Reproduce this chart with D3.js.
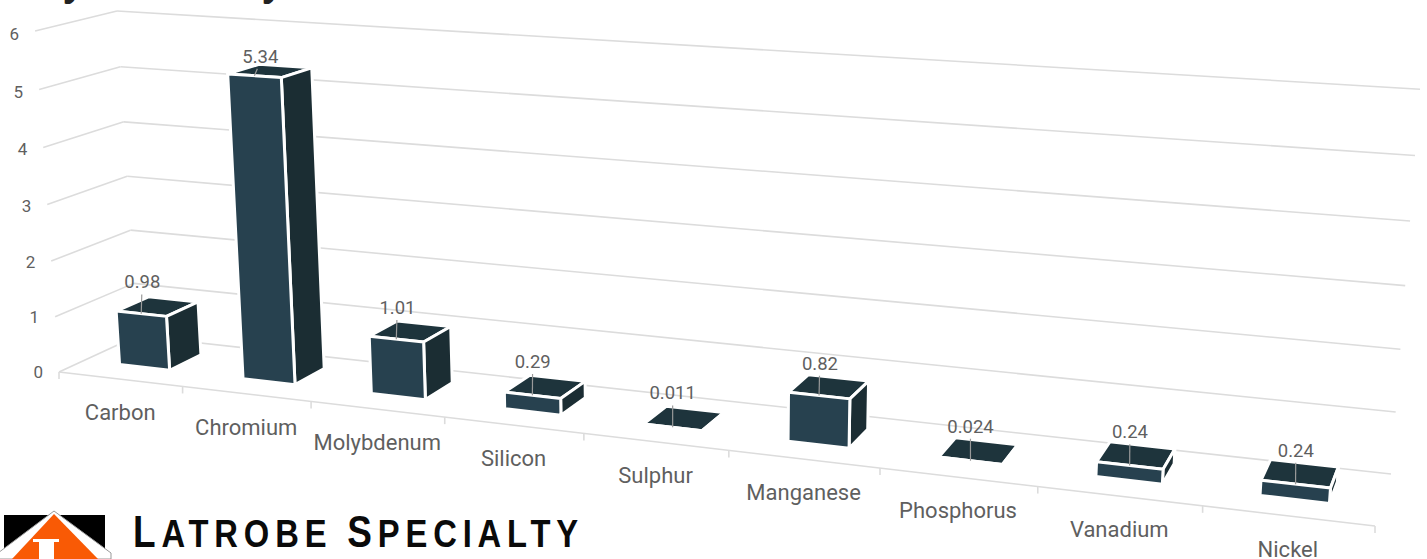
<!DOCTYPE html>
<html><head><meta charset="utf-8">
<script src="https://cdnjs.cloudflare.com/ajax/libs/d3/7.8.5/d3.min.js"></script>
<style>html,body{margin:0;padding:0;background:#fff;overflow:hidden}svg{display:block}</style>
</head><body><svg id="c" width="1427" height="559"></svg>
<script>
const categories=["Carbon","Chromium","Molybdenum","Silicon","Sulphur","Manganese","Phosphorus","Vanadium","Nickel"];
const values=[0.98,5.34,1.01,0.29,0.011,0.82,0.024,0.24,0.24];
const valueLabels=["0.98","5.34","1.01","0.29","0.011","0.82","0.024","0.24","0.24"];
const yTicks=[0,1,2,3,4,5,6];
const FL=[59,372],FR=[1375,526],BL=[137,336],BR=[1391,474],TBL=[117,11],TBR=[1420,94];

function solve(m,b){const n=m.length,a=m.map((r,i)=>[...r,b[i]]);
 for(let i=0;i<n;i++){let p=i;for(let j=i+1;j<n;j++)if(Math.abs(a[j][i])>Math.abs(a[p][i]))p=j;[a[i],a[p]]=[a[p],a[i]];
  for(let j=0;j<n;j++)if(j!==i){const f=a[j][i]/a[i][i];for(let k=i;k<=n;k++)a[j][k]-=f*a[i][k];}}
 return a.map((r,i)=>r[n]/r[i]);}
const h=(()=>{const P=[[0,0,FL],[1,0,FR],[0,1,BL],[1,1,BR]],M=[],b=[];
 P.forEach(([u,d,[x,y]])=>{M.push([u,d,1,0,0,0,-u*x,-d*x]);b.push(x);M.push([0,0,0,u,d,1,-u*y,-d*y]);b.push(y);});
 return solve(M,b);})();
const vert=(()=>{const w1=h[7]+1,w2=h[6]+h[7]+1;
 const n1=[h[1]+h[2],h[4]+h[5]],n2=[h[0]+h[1]+h[2],h[3]+h[4]+h[5]];
 const M=[[1,0,-TBL[0]],[0,1,-TBL[1]],[1,0,-TBR[0]]];
 const b=[TBL[0]*w1-n1[0],TBL[1]*w1-n1[1],TBR[0]*w2-n2[0]];
 return solve(M,b);})();
const vn=d3.scaleLinear().domain([0,6]).range([0,1]);
function proj(u,d,val){const t=vn(val);
 const w=h[6]*u+h[7]*d+1+vert[2]*t;
 return [(h[0]*u+h[1]*d+h[2]+vert[0]*t)/w,(h[3]*u+h[4]*d+h[5]+vert[1]*t)/w];}
const band=d3.scaleBand().domain(categories).range([0,1]).paddingInner(0.59).paddingOuter(0.295);
const D0=0.31,D1=0.73;
const svg=d3.select("#c");
const grid="#dcdcdc",frontC="#27414f",sideC="#1b2d33",topC="#1e343c",textC="#5f5f5f";
const lineG=d3.line();
function seg(a,b){svg.append("path").attr("d",lineG([a,b])).attr("fill","none").attr("stroke",grid).attr("stroke-width",1.6);}
yTicks.forEach(t=>{seg(proj(0,0,t),proj(0,1,t));seg(proj(0,1,t),proj(1,1,t));
 const p=proj(0,0,t);
 svg.append("text").attr("x",p[0]-16).attr("y",p[1]+6+t*0.5).attr("text-anchor","end").attr("font-family","Roboto").attr("font-size",17).attr("fill",textC).text(t);});
seg(proj(0,0,0),proj(1,0,0));
d3.range(0,10).forEach(i=>{const u=i/9,p=proj(u,0,0);seg(p,[p[0],p[1]+7]);});
function poly(pts,fill){svg.append("path").attr("d",d3.line()(pts)+"Z").attr("fill",fill).attr("stroke","#fff").attr("stroke-width",3).attr("stroke-linejoin","round");}
categories.forEach((c,i)=>{const v=values[i],u0=band(c),u1=u0+band.bandwidth();
 poly([proj(u0,D0,v),proj(u1,D0,v),proj(u1,D1,v),proj(u0,D1,v)],topC);
 poly([proj(u1,D0,0),proj(u1,D1,0),proj(u1,D1,v),proj(u1,D0,v)],sideC);
 poly([proj(u0,D0,0),proj(u1,D0,0),proj(u1,D0,v),proj(u0,D0,v)],frontC);
 const m=proj((u0+u1)/2,D0,v), lift=34-2.8*v, nudge=1.1*v;
 svg.append("path").attr("d",lineG([m,[m[0]+nudge/2,m[1]-lift+12]])).attr("stroke","#9a9a9a").attr("stroke-width",1.2);
 svg.append("text").attr("x",m[0]+nudge).attr("y",m[1]-lift+6).attr("text-anchor","middle").attr("font-family","Roboto").attr("font-size",18.5).attr("fill",textC).text(valueLabels[i]);
 const a=proj((i+0.5)/9,0,0);
 svg.append("text").attr("x",a[0]).attr("y",a[1]+41).attr("text-anchor","middle").attr("font-family","Roboto").attr("font-size",22).attr("fill",textC).text(c);
});
// cropped title: only the descenders remain in frame
[62,261].forEach(x=>svg.append("text").attr("x",x).attr("y",-5).attr("font-family","Roboto").attr("font-weight",700).attr("font-size",46).attr("fill","#222").text("y"));
// logo
const logo=svg.append("g");
logo.append("rect").attr("x",4).attr("y",515).attr("width",101).attr("height",44).attr("fill","#000");
logo.append("path").attr("d","M54 511L111 553L111 559L-2 559L-2 553Z").attr("fill","#fff").attr("stroke","#999").attr("stroke-width",1);
logo.append("path").attr("d","M54 514L98 559L12 559Z").attr("fill","#f95a05");
logo.append("path").attr("d","M33 539H59V542H54V559H39V542H33Z").attr("fill","#fff");
const lt=svg.append("text").attr("transform","translate(133,547) scale(.84,1)").attr("font-family","'Liberation Sans'").attr("font-weight",700).attr("fill","#0a0a0a").attr("textLength",530).attr("lengthAdjust","spacing");
[["L",44],["ATROBE ",39],["S",44],["PECIALTY",39]].forEach(([s,f])=>lt.append("tspan").attr("font-size",f).text(s));
</script></body></html>
